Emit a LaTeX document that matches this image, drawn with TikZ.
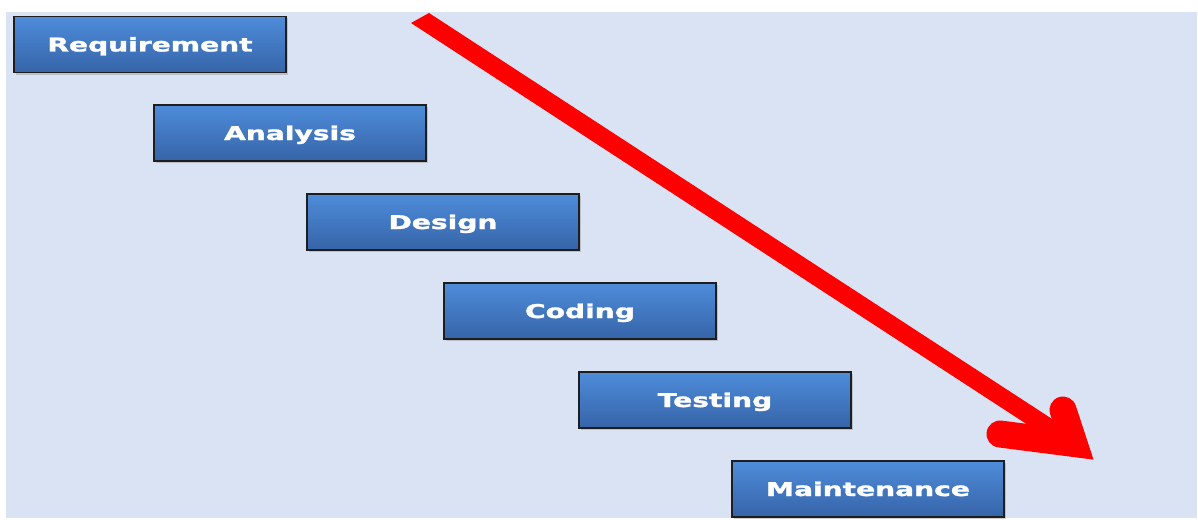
\documentclass[tikz,border=0pt]{standalone}
\usepackage{fontspec}
\newfontfamily\boxfont{DejaVu Sans Bold}[FakeBold=1.4]
\usetikzlibrary{shadows,calc}
\definecolor{bgblue}{RGB}{218,227,243}
\definecolor{boxtop}{RGB}{78,140,218}
\definecolor{boxbot}{RGB}{54,100,168}
\definecolor{boxline}{RGB}{30,30,30}
\tikzset{
  phase/.style={draw=boxline, line width=1.4pt, top color=boxtop, bottom color=boxbot,
    minimum width=272pt, minimum height=56pt, inner sep=0pt,
    text height=14pt, text depth=0pt, text=white,
    font=\boxfont\fontsize{19}{21}\selectfont,
    drop shadow={shadow xshift=2pt, shadow yshift=-2pt, opacity=0.35}},
  flow/.style={fill=red, draw=none},
  head/.style={draw=red, line width=27pt, line cap=round, line join=miter}
}
\newcommand{\wide}[1]{\scalebox{1.48}[1]{#1}}
\begin{document}
\begin{tikzpicture}[x=1pt,y=-1pt]
\useasboundingbox (0,0) rectangle (1198,519);
\fill[white] (0,0) rectangle (1198,519);
\fill[bgblue] (6,12) rectangle (1197,518);
\node[phase] (req) at (150,44.5) {\wide{Requirement}};
\node[phase] (ana) at (290,133) {\wide{Analysis}};
\node[phase] (des) at (443,222) {\wide{Design}};
\node[phase] (cod) at (580,311) {\wide{Coding}};
\node[phase] (tes) at (715,400) {\wide{Testing}};
\node[phase] (mai) at (868,489) {\wide{Maintenance}};
% arrow
\coordinate (s1) at (429,13);
\coordinate (s2) at (411,23);
\coordinate (vtx) at (1074,443.5);
\coordinate (b1) at (1063,410);
\coordinate (b2) at (1000,434);
\fill[flow] (s1) -- (s2) -- ($(s2)+(770*0.838,770*0.546)$) -- ($(s1)+(770*0.838,770*0.546)$) -- cycle;
\draw[head] (b1) -- (vtx) -- (b2);
\end{tikzpicture}
\end{document}
